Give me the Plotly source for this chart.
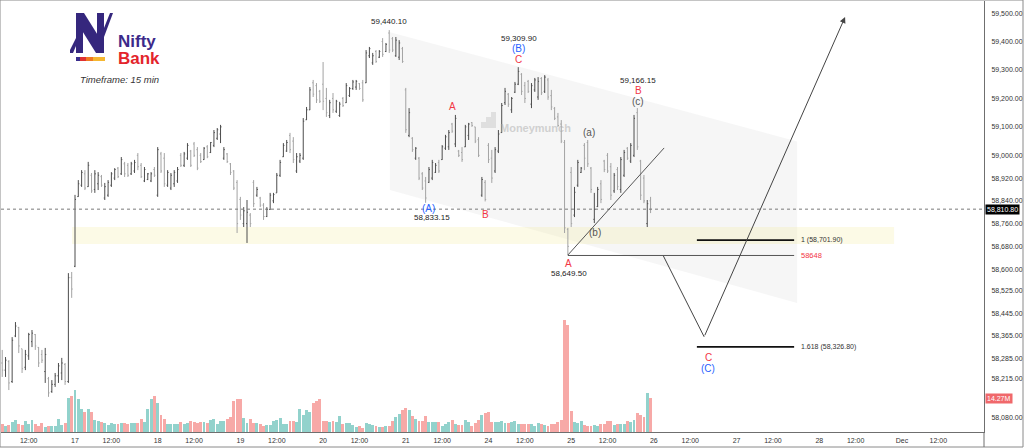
import plotly.graph_objects as go

FONT = "Liberation Sans, Arial, sans-serif"

# ---------------- data (15-min bars, index 0 = first bar of Nov 17) ----------------
bar_index = list(range(-22, 175))

opens = [
    # Nov 14 (tail)
    58270, 58245, 58275, 58205, 58365, 58395, 58320, 58255, 58295, 58345, 58370, 58325, 58300, 58240, 58215, 58170, 58195, 58225, 58235, 58265, 58205, 58570,
    # Nov 17
    58610, 58855, 58895, 58935, 58890, 58930, 58880, 58900, 58925, 58850, 58860, 58895, 58920, 58955, 58935, 58970, 58965, 58935, 58945, 59000, 58965, 58910, 58915, 58910, 58950,
    # Nov 18
    58860, 59005, 58990, 58895, 58885, 58900, 58910, 59000, 58965, 58990, 59015, 59040, 59020, 59000, 58985, 59030, 59010, 59035, 59060, 59075, 58990, 59005, 58970, 58945, 58905,
    # Nov 19
    58845, 58760, 58760, 58790, 58905, 58860, 58850, 58825, 58785, 58810, 58840, 58868, 58930, 58995, 59015, 59070, 59050, 58945, 58980, 58990, 59125, 59160, 59255, 59245, 59225,
    # Nov 20
    59250, 59200, 59140, 59200, 59155, 59140, 59200, 59185, 59210, 59235, 59240, 59252, 59255, 59255, 59350, 59325, 59365, 59345, 59400, 59365, 59430, 59410, 59350, 59345, 59375,
    # Nov 21
    59230, 59070, 59060, 58990, 58990, 58935, 58910, 58905, 58920, 58940, 58975, 58985, 59025, 59030, 59110, 59040, 59015, 59010, 59030, 59070, 59115, 59100, 59055, 58860, 58905,
    # Nov 24
    59035, 58990, 58945, 59015, 59080, 59185, 59215, 59160, 59222, 59250, 59285, 59245, 59260, 59180, 59230, 59205, 59270, 59225, 59265, 59210, 59165, 59135, 59110, 59045, 58740,
    # Nov 25
    58940, 58790, 58895, 58940, 59035, 59045, 58955, 58775, 58820, 58900, 58980, 59000, 58960, 58875, 58950, 58880, 58930, 59025, 58980, 59000, 59150, 58980, 58920, 58760, 58840,
]
highs = [
    58316, 58291, 58280, 58361, 58414, 58397, 58320, 58316, 58376, 58386, 58372, 58326, 58316, 58323, 58221, 58210, 58235, 58270, 58288, 58270, 58586, 58590,
    58861, 58913, 58948, 58948, 58977, 58938, 58948, 58941, 58931, 58903, 58913, 58941, 58955, 58959, 58994, 58977, 58973, 58977, 58984, 59008, 58973, 58959, 58938, 58941, 58959,
    59029, 59012, 59008, 58948, 58938, 58948, 58959, 59008, 59012, 59043, 59019, 59047, 59029, 59008, 59029, 59036, 59047, 59089, 59096, 59107, 59029, 59008, 58973, 58948, 58913,
    58854, 58818, 58843, 58797, 58913, 58889, 58854, 58832, 58818, 58868, 58868, 58938, 58984, 59043, 59054, 59079, 59064, 59008, 59008, 59131, 59170, 59240, 59265, 59254, 59230,
    59328, 59237, 59195, 59219, 59195, 59188, 59205, 59254, 59240, 59265, 59265, 59254, 59265, 59370, 59381, 59360, 59370, 59370, 59412, 59395, 59440.10, 59416, 59416, 59405, 59381,
    59237, 59166, 59064, 59029, 58994, 58941, 58924, 58959, 58984, 58973, 58984, 59036, 59072, 59089, 59114, 59142, 59019, 59029, 59107, 59114, 59117, 59100, 59064, 58924, 58913,
    59043, 59019, 59029, 59089, 59184, 59237, 59219, 59205, 59258, 59309.90, 59289, 59258, 59265, 59254, 59272, 59275, 59275, 59282, 59272, 59230, 59170, 59149, 59124, 59054, 58745,
    58959, 58889, 58984, 58959, 59043, 59054, 58959, 58868, 58889, 58913, 58984, 59008, 58973, 58938, 58959, 58994, 59019, 59029, 59043, 59142, 59166.15, 58984, 58931, 58843, 58854,
]
lows = [
    58221, 58221, 58175, 58200, 58361, 58305, 58235, 58245, 58281, 58326, 58316, 58256, 58270, 58200, 58151, 58165, 58186, 58200, 58210, 58193, 58200, 58499,
    58607, 58854, 58889, 58878, 58889, 58868, 58868, 58878, 58889, 58843, 58854, 58889, 58913, 58920, 58931, 58924, 58924, 58931, 58938, 58948, 58920, 58906, 58913, 58906, 58924,
    58854, 58938, 58889, 58889, 58878, 58889, 58903, 58959, 58959, 58984, 58959, 58994, 58948, 58973, 58984, 58990, 59008, 59029, 59054, 59043, 58984, 58973, 58931, 58878, 58727,
    58773, 58748, 58692, 58748, 58818, 58854, 58818, 58773, 58783, 58808, 58832, 58868, 58924, 58994, 59012, 59008, 58973, 58938, 58973, 58984, 59124, 59159, 59205, 59184, 59184,
    59159, 59135, 59131, 59149, 59149, 59135, 59170, 59184, 59205, 59230, 59230, 59230, 59188, 59254, 59342, 59318, 59325, 59342, 59346, 59363, 59360, 59363, 59346, 59335, 59325,
    59079, 59064, 59012, 58984, 58913, 58878, 58833.15, 58903, 58913, 58938, 58938, 58984, 59019, 59019, 59079, 59029, 58994, 58977, 59029, 59054, 59100, 59043, 58994, 58854, 58838,
    58973, 58903, 58938, 59008, 59079, 59177, 59170, 59149, 59219, 59247, 59212, 59184, 59219, 59166, 59223, 59195, 59212, 59219, 59195, 59159, 59124, 59100, 59043, 58727, 58649.50,
    58748, 58783, 58889, 58938, 58948, 58959, 58868, 58762, 58818, 58832, 58941, 58938, 58843, 58868, 58878, 58868, 58924, 58984, 58973, 58994, 59019, 58843, 58832, 58748, 58797,
]
closes = [
    58245, 58280, 58200, 58350, 58400, 58330, 58250, 58300, 58370, 58375, 58330, 58270, 58280, 58300, 58165, 58195, 58225, 58260, 58270, 58205, 58570, 58530,
    58845, 58900, 58940, 58885, 58965, 58875, 58935, 58930, 58895, 58890, 58905, 58935, 58950, 58925, 58985, 58935, 58930, 58970, 58975, 58960, 58925, 58950, 58935, 58935, 58930,
    59020, 58945, 58900, 58940, 58930, 58940, 58950, 58965, 59005, 59035, 58965, 59000, 58955, 58978, 59025, 58995, 59045, 59080, 59090, 59100, 59020, 58978, 58940, 58885, 58760,
    58790, 58805, 58800, 58760, 58830, 58880, 58825, 58785, 58810, 58860, 58862, 58930, 58975, 59035, 59045, 59020, 58985, 58995, 59000, 59120, 59160, 59230, 59215, 59195, 59190,
    59190, 59150, 59185, 59160, 59190, 59180, 59175, 59245, 59235, 59258, 59260, 59235, 59195, 59360, 59375, 59350, 59330, 59365, 59355, 59390, 59370, 59370, 59405, 59395, 59330,
    59090, 59150, 59020, 59025, 58920, 58885, 58850, 58950, 58975, 58965, 58945, 59030, 59065, 59080, 59085, 59130, 59000, 58985, 59100, 59110, 59105, 59050, 59000, 58915, 58845,
    58985, 58920, 59020, 59075, 59175, 59225, 59180, 59200, 59250, 59295, 59225, 59200, 59225, 59245, 59265, 59260, 59220, 59275, 59205, 59170, 59130, 59105, 59050, 58745, 58680,
    58760, 58870, 58975, 58955, 58990, 58970, 58880, 58810, 58880, 58845, 58950, 58945, 58860, 58930, 58890, 58985, 59010, 58990, 59035, 59130, 59030, 58860, 58840, 58830, 58810.80,
]
volume_m = [
    3.2, 2.5, 3.1, 4.3, 4.9, 3.2, 2.8, 4.6, 3.2, 5.0, 3.2, 2.5, 3.6, 2.2, 2.5, 2.7, 2.7, 5.6, 2.8, 3.9,
    14.4, 15.0, 17.8, 13.7, 9.5, 8.4, 9.5, 8.5, 5.0, 4.6, 4.3, 3.6, 2.9, 3.6, 3.2, 3.2, 3.9, 3.9, 3.2, 3.6,
    3.9, 3.9, 5.3, 4.2, 9.5, 14.0, 15.1, 12.0, 7.0, 5.3, 3.2, 3.2, 3.2, 3.5, 4.2, 3.5, 3.9, 4.6, 4.2, 3.9,
    4.2, 4.2, 3.6, 4.9, 5.6, 3.5, 4.5, 4.6, 5.3, 6.4, 13.0, 13.7, 13.7, 6.0, 3.9, 5.6, 3.6, 3.6, 3.2, 2.5,
    2.8, 2.8, 4.5, 5.0, 6.0, 3.2, 3.2, 4.5, 4.5, 4.2, 9.8, 7.1, 9.1, 8.4, 12.3, 13.2, 14.0, 4.6, 4.6,
    4.0,
    4.5, 4.1, 6.9, 3.5, 3.8, 3.8, 3.1, 2.0, 2.7, 1.7, 3.8, 3.2, 2.9, 2.7, 2.1, 2.1, 2.7, 2.7, 4.6, 6.2,
    7.6, 9.4, 10.1, 9.4, 6.9, 5.6, 4.6, 4.5, 6.9, 4.1, 4.2, 4.2, 4.1, 2.4, 3.4, 4.3, 4.9, 3.2, 3.1, 2.9,
    4.9, 4.2, 2.7, 3.8, 5.2, 7.1, 8.0, 8.3, 4.3, 4.3, 4.2, 4.5, 3.6, 3.6, 4.2, 4.8, 3.5, 3.5, 3.2, 3.5,
    3.2, 2.7, 3.9, 3.5, 3.1, 2.7, 3.5, 3.5, 4.2, 4.9, 46.9, 45.1, 9.0, 4.3, 3.8, 4.6, 2.9, 2.7, 2.7, 2.9,
    2.7, 3.5, 3.5, 4.8, 4.8, 3.1, 3.5, 3.2, 3.5, 4.6, 4.3, 5.2, 8.1, 7.1, 6.4, 16.5, 14.27,
]

tick_index = [-14, 0, 11, 25, 36, 50, 61, 75, 86, 100, 111, 125, 136, 150, 161, 175, 186, 200, 211, 225, 236, 250, 261]
tick_text = ["12:00", "17", "12:00", "18", "12:00", "19", "12:00", "20", "12:00", "21", "12:00", "24", "12:00",
             "25", "12:00", "26", "12:00", "27", "12:00", "28", "12:00", "Dec", "12:00"]
price_ticks = [59500, 59400, 59300, 59200, 59100, 59000, 58920, 58840, 58760, 58680, 58600, 58525, 58445,
               58365, 58285, 58215, 58080]

last_price = 58810.80
last_volume = 14.27

# channel (bar index, price)
channel_x = [95.2, 218.3]
channel_upper = [59433, 59049]
channel_lower = [58878, 58481]
# demand zone
zone_x = [-0.9, 247.6]
zone_y = [58688, 58748]
# fib targets
fib_x = [188.0, 217.4]
fib_levels = [58701.90, 58326.80]
fib_names = ["1", "1.618"]
support_level = 58648
support_x = [149, 217.4]
label_x = 218.9
# trendline from wave A low
trend_x = [149, 178.1]
trend_y = [58649.50, 59026]
# projected path
proj_x = [177.8, 190.2, 232.8]
proj_y = [58648, 58362, 59486]

# wave labels: (bar index, anchor price, text, colour, size, pixel shift)
BLUE, RED, GREY, DARK = "#2962ff", "#f23645", "#555555", "#222222"
wave_labels = [
    (95, 59440.10, "59,440.10", DARK, 8, 9),
    (107, 58833.15, "(A)", BLUE, 10, -6),
    (108, 58833.15, "58,833.15", DARK, 8, -15),
    (114, 59142, "A", RED, 10, 8.5),
    (124, 58838, "B", RED, 10, -13.5),
    (134.2, 59309.90, "59,309.90", DARK, 8, 29),
    (134.2, 59309.90, "(B)", BLUE, 10, 18.3),
    (134.2, 59309.90, "C", RED, 10, 7.8),
    (170.2, 59166.15, "59,166.15", DARK, 8, 28),
    (170.2, 59166.15, "B", RED, 10, 18),
    (170.2, 59166.15, "(c)", GREY, 10, 6.6),
    (155.4, 59054, "(a)", GREY, 10, 7.5),
    (157.3, 58762, "(b)", GREY, 10, -9.5),
    (149.2, 58649.50, "A", RED, 10, -8.5),
    (149.2, 58649.50, "58,649.50", DARK, 8, -18.5),
    (191.4, 58326.80, "C", RED, 10, -10.5),
    (191.4, 58326.80, "(C)", BLUE, 10, -21.5),
]

# ---------------- figure ----------------
UP_VOL, DN_VOL = "#92d2cc", "#f7a9a7"
vol_colors = [UP_VOL if c >= o else DN_VOL for o, c in zip(opens, closes)]

fig = go.Figure()
fig.add_trace(go.Bar(x=bar_index, y=volume_m, marker=dict(color=vol_colors, line=dict(width=0)),
                     width=0.88, yaxis="y", hoverinfo="skip"))
fig.add_trace(go.Ohlc(x=bar_index, open=opens, high=highs, low=lows, close=closes, yaxis="y2",
                      increasing=dict(line=dict(color="#4d4d4d", width=1)),
                      decreasing=dict(line=dict(color="#a3a3a3", width=1)),
                      tickwidth=0.3, hoverinfo="skip"))
fig.add_trace(go.Scatter(x=proj_x[:2], y=proj_y[:2], mode="lines", yaxis="y2",
                         line=dict(color="#444444", width=1), hoverinfo="skip"))

X_RANGE = [-22.37, 274.8]
Y_RANGE = [58027.5, 59542.5]
VOL_RANGE = [0, 180.9]

fig.update_layout(
    width=1024, height=448, margin=dict(l=1, r=40, t=1, b=16),
    paper_bgcolor="white", plot_bgcolor="white", showlegend=False,
    font=dict(family=FONT, color="#333333"),
    bargap=0,
    xaxis=dict(range=X_RANGE, type="linear", showgrid=False, zeroline=False, rangeslider=dict(visible=False),
               showline=True, linecolor="#6f6f6f", linewidth=1, ticks="",
               tickvals=tick_index, ticktext=tick_text, tickfont=dict(size=7, color="#333333"),
               ticklabelstandoff=2, anchor="y"),
    yaxis=dict(range=VOL_RANGE, visible=False, fixedrange=True),
    yaxis2=dict(range=Y_RANGE, overlaying="y", side="right", anchor="x", showgrid=False, zeroline=False,
                showline=True, linecolor="#6f6f6f", linewidth=1, ticks="",
                tickvals=price_ticks, ticktext=[f"{v:,.2f}" for v in price_ticks],
                tickfont=dict(size=7, color="#333333"), ticklabelstandoff=5),
)

# channel & zone (below data)
fig.add_shape(type="path", xref="x", yref="y2", layer="below",
              path=(f"M {channel_x[0]},{channel_upper[0]} L {channel_x[1]},{channel_upper[1]} "
                    f"L {channel_x[1]},{channel_lower[1]} L {channel_x[0]},{channel_lower[0]} Z"),
              fillcolor="rgba(120,120,120,0.065)", line=dict(width=0))
fig.add_shape(type="rect", xref="x", yref="y2", layer="below",
              x0=zone_x[0], x1=zone_x[1], y0=zone_y[0], y1=zone_y[1],
              fillcolor="rgba(245,235,160,0.26)", line=dict(width=0))
# current price dotted line
fig.add_shape(type="line", xref="paper", yref="y2", x0=0, x1=1, y0=last_price, y1=last_price,
              line=dict(color="#7a7a7a", width=1, dash="dot"))
# fib lines and support
for lvl in fib_levels:
    fig.add_shape(type="line", xref="x", yref="y2", x0=fib_x[0], x1=fib_x[1], y0=lvl, y1=lvl,
                  line=dict(color="#111111", width=1.6))
fig.add_shape(type="line", xref="x", yref="y2", x0=support_x[0], x1=support_x[1],
              y0=support_level, y1=support_level, line=dict(color="#555555", width=1))
fig.add_shape(type="line", xref="x", yref="y2", x0=trend_x[0], x1=trend_x[1], y0=trend_y[0], y1=trend_y[1],
              line=dict(color="#555555", width=1))

for name, lvl in zip(fib_names, fib_levels):
    fig.add_annotation(x=label_x, y=lvl, xref="x", yref="y2", text=f"{name} ({lvl:,.2f})", showarrow=False,
                       xanchor="left", font=dict(size=7, color="#333333", family=FONT))
fig.add_annotation(x=label_x, y=support_level, xref="x", yref="y2", text=f"{support_level}", showarrow=False,
                   xanchor="left", font=dict(size=7.5, color=RED, family=FONT))

# projected arrow
fig.add_annotation(x=proj_x[2], y=proj_y[2], ax=proj_x[1], ay=proj_y[1], xref="x", yref="y2",
                   axref="x", ayref="y2", text="", showarrow=True, arrowhead=2, arrowsize=1.2,
                   arrowwidth=1, arrowcolor="#444444", standoff=0)

for x, y, t, c, s, sh in wave_labels:
    fig.add_annotation(x=x, y=y, xref="x", yref="y2", text=t, showarrow=False, yshift=sh,
                       font=dict(size=s, color=c, family=FONT))

# right-axis value labels
fig.add_annotation(x=1, y=last_price, xref="paper", yref="y2", text=f"{last_price:,.2f}", showarrow=False,
                   xanchor="left", xshift=1, bgcolor="#000000", borderpad=1,
                   font=dict(size=7, color="white", family=FONT))
fig.add_annotation(x=1, y=last_volume, xref="paper", yref="y", text=f"{last_volume}M", showarrow=False,
                   xanchor="left", xshift=1, bgcolor="#f0686b", borderpad=1,
                   font=dict(size=7, color="white", family=FONT))

# ---------------- logo & decorations (pixel helpers) ----------------
def px(x):
    return (x - 1) / 983

def py(y):
    return (432 - y) / 431

def poly(points, color):
    d = "M " + " L ".join(f"{px(a)},{py(b)}" for a, b in points) + " Z"
    fig.add_shape(type="path", xref="paper", yref="paper", path=d, fillcolor=color, line=dict(width=0))

LOGO = "#35277d"
poly([(76, 13), (83, 13), (83, 53), (76, 53)], LOGO)
poly([(97, 13), (104, 13), (104, 53), (97, 53)], LOGO)
poly([(76, 13), (84, 13), (104, 45), (104, 53), (96, 53), (76, 21)], LOGO)
poly([(104, 28), (110, 13), (113, 13), (104, 37)], LOGO)
poly([(76, 38), (70, 50), (70, 53), (73, 53), (76, 46)], LOGO)
poly([(76, 57), (80, 57), (80, 61), (76, 61)], "#3a2d8c")
poly([(80, 57), (86, 57), (86, 61), (80, 61)], "#e03131")
poly([(86, 57), (93, 57), (93, 61), (86, 61)], "#f07a22")
poly([(93, 57), (105, 57), (105, 61), (93, 61)], "#f5b731")

fig.add_annotation(x=px(116), y=py(30), xref="paper", yref="paper", text="<b>Nifty</b>", showarrow=False,
                   xanchor="left", font=dict(size=17, color="#3c2a8a", family=FONT))
fig.add_annotation(x=px(116), y=py(47), xref="paper", yref="paper", text="<b>Bank</b>", showarrow=False,
                   xanchor="left", font=dict(size=17, color="#e3242b", family=FONT))
fig.add_annotation(x=px(78), y=py(72), xref="paper", yref="paper", text="<i>Timeframe: 15 min</i>",
                   showarrow=False, xanchor="left", font=dict(size=9.5, color="#333333", family=FONT))

# watermark
poly([(481, 128), (481, 122), (486, 122), (486, 117), (491, 117), (491, 112), (496, 112), (496, 128)],
     "rgba(170,170,170,0.3)")
fig.add_annotation(x=px(498), y=py(120), xref="paper", yref="paper", text="<b>Moneymunch</b>", showarrow=False,
                   xanchor="left", font=dict(size=11, color="rgba(170,170,170,0.5)", family=FONT))

# frame
fig.add_shape(type="rect", xref="paper", yref="paper", x0=px(0), x1=px(1023), y0=py(447), y1=py(0),
              line=dict(color="#8a8a8a", width=1), fillcolor="rgba(0,0,0,0)")
fig.add_shape(type="line", xref="paper", yref="paper", x0=1, x1=1, y0=py(447), y1=0,
              line=dict(color="#6f6f6f", width=1))

fig.write_html("out.html")
